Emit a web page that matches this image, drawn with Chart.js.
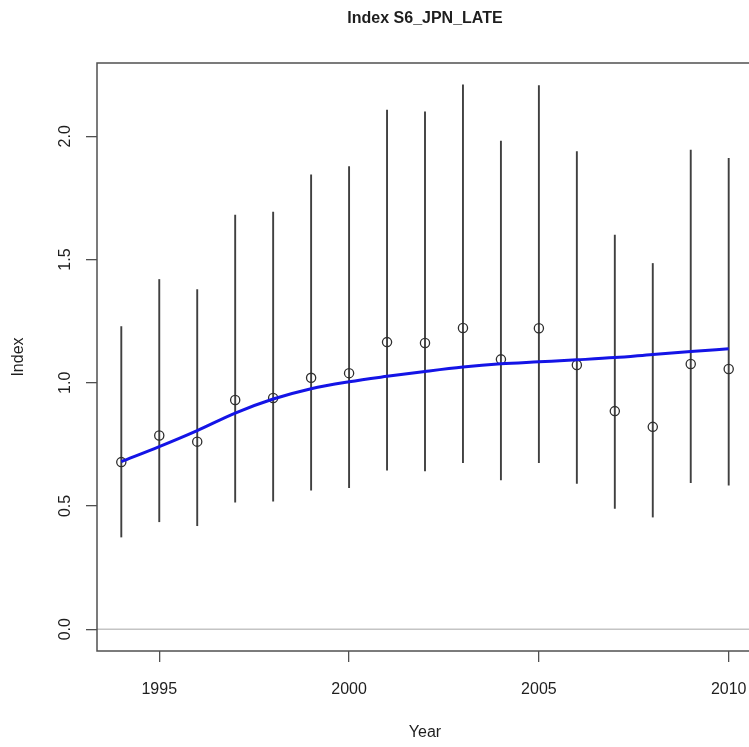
<!DOCTYPE html>
<html>
<head>
<meta charset="utf-8">
<title>Index S6_JPN_LATE</title>
<script src="https://cdn.jsdelivr.net/npm/chart.js@4.4.1/dist/chart.umd.min.js"></script>
<style>
  html, body { margin: 0; padding: 0; background: #ffffff; overflow: hidden; }
  #wrap { position: relative; width: 780px; height: 747px; }
</style>
</head>
<body>
<div id="wrap"><canvas id="chart"></canvas></div>
<script>
// Annual index estimates with 95% intervals and smoothed trend
const years = [1994, 1995, 1996, 1997, 1998, 1999, 2000, 2001, 2002, 2003, 2004, 2005, 2006, 2007, 2008, 2009, 2010];
const indexValues = [0.678, 0.786, 0.761, 0.930, 0.938, 1.020, 1.039, 1.165, 1.161, 1.222, 1.095, 1.221, 1.072, 0.885, 0.821, 1.076, 1.056];
const lowerCI = [0.374, 0.436, 0.420, 0.515, 0.520, 0.564, 0.574, 0.645, 0.642, 0.676, 0.606, 0.676, 0.592, 0.490, 0.455, 0.595, 0.584];
const upperCI = [1.228, 1.419, 1.378, 1.680, 1.692, 1.844, 1.877, 2.106, 2.099, 2.209, 1.981, 2.206, 1.938, 1.599, 1.484, 1.944, 1.911];
const trendValues = [0.680, 0.741, 0.806, 0.877, 0.934, 0.976, 1.004, 1.026, 1.046, 1.064, 1.077, 1.085, 1.093, 1.102, 1.115, 1.127, 1.138];
const xTicks = [1995, 2000, 2005, 2010];
const yTicks = [0.0, 0.5, 1.0, 1.5, 2.0];

const TITLE = 'Index S6_JPN_LATE';
const X_LABEL = 'Year';
const Y_LABEL = 'Index';
const FONT = '"Liberation Sans", Arial, Helvetica, sans-serif';

// axis limits padded by 4% of the data range on each side
const xMinData = Math.min(...years), xMaxData = Math.max(...years);
const xPad = (xMaxData - xMinData) * 0.04;
const yMinData = 0, yMaxData = Math.max(...upperCI);
const yPad = (yMaxData - yMinData) * 0.04;

const AXIS_COLOR = '#505050';
const TEXT_COLOR = '#1e1e1e';

// frame, zero reference line, rotated y tick labels and titles
const decorations = {
  id: 'decorations',
  beforeDatasetsDraw(chart) {
    const { ctx, chartArea: a, scales } = chart;
    const y0 = scales.y.getPixelForValue(0);
    ctx.save();
    ctx.strokeStyle = '#c4c4c4';
    ctx.lineWidth = 1.5;
    ctx.beginPath();
    ctx.moveTo(a.left, y0);
    ctx.lineTo(a.right, y0);
    ctx.stroke();
    ctx.restore();
  },
  afterDraw(chart) {
    const { ctx, chartArea: a, scales } = chart;
    ctx.save();
    ctx.strokeStyle = AXIS_COLOR;
    ctx.lineWidth = 1.5;
    ctx.strokeRect(a.left, a.top, a.right - a.left, a.bottom - a.top);

    ctx.fillStyle = TEXT_COLOR;
    ctx.textAlign = 'center';
    ctx.textBaseline = 'middle';

    // y tick labels, rotated like the axis title
    ctx.font = '16px ' + FONT;
    yTicks.forEach(v => {
      const py = scales.y.getPixelForValue(v);
      ctx.save();
      ctx.translate(66, py);
      ctx.rotate(-Math.PI / 2);
      ctx.fillText(v.toFixed(1), 0, 0);
      ctx.restore();
    });

    // axis titles
    const cx = (a.left + a.right) / 2;
    const cy = (a.top + a.bottom) / 2;
    ctx.font = '16px ' + FONT;
    ctx.fillText(X_LABEL, cx, 733);
    ctx.save();
    ctx.translate(19, cy);
    ctx.rotate(-Math.PI / 2);
    ctx.fillText(Y_LABEL, 0, 0);
    ctx.restore();

    // main title
    ctx.font = 'bold 16px ' + FONT;
    ctx.fillText(TITLE, cx, 19);
    ctx.restore();
  }
};

new Chart(document.getElementById('chart'), {
  type: 'bar',
  data: {
    datasets: [
      {
        type: 'line',
        label: 'Trend',
        data: years.map((yr, i) => ({ x: yr, y: trendValues[i] })),
        borderColor: '#1414e6',
        borderWidth: 3,
        pointRadius: 0,
        cubicInterpolationMode: 'monotone',
        fill: false,
        order: 0
      },
      {
        type: 'line',
        label: 'Index',
        data: years.map((yr, i) => ({ x: yr, y: indexValues[i] })),
        showLine: false,
        pointStyle: 'circle',
        pointRadius: 4.6,
        pointBorderWidth: 1.3,
        pointBorderColor: '#2e2e2e',
        pointBackgroundColor: 'rgba(0,0,0,0)',
        order: 1
      },
      {
        type: 'bar',
        label: 'Interval',
        data: years.map((yr, i) => ({ x: yr, y: [lowerCI[i], upperCI[i]] })),
        backgroundColor: '#404040',
        borderWidth: 0,
        barThickness: 1.25,
        grouped: false,
        order: 2
      }
    ]
  },
  options: {
    responsive: true,
    maintainAspectRatio: false,
    animation: false,
    layout: { padding: { top: 63, left: 0, right: 27, bottom: 0 } },
    plugins: {
      legend: { display: false },
      tooltip: { enabled: false },
      title: { display: false }
    },
    scales: {
      x: {
        type: 'linear',
        offset: false,
        min: xMinData - xPad,
        max: xMaxData + xPad,
        afterBuildTicks(scale) { scale.ticks = xTicks.map(v => ({ value: v })); },
        afterFit(scale) { scale.height = 96; scale.paddingLeft = 0; scale.paddingRight = 0; },
        border: { display: false },
        grid: {
          offset: false,
          drawOnChartArea: false,
          drawTicks: true,
          tickLength: 11,
          color: AXIS_COLOR,
          lineWidth: 1.3
        },
        ticks: {
          autoSkip: false,
          maxRotation: 0,
          padding: 18,
          color: TEXT_COLOR,
          font: { family: FONT, size: 16 },
          callback: v => String(v)
        }
      },
      y: {
        type: 'linear',
        min: yMinData - yPad,
        max: yMaxData + yPad,
        afterBuildTicks(scale) { scale.ticks = yTicks.map(v => ({ value: v })); },
        afterFit(scale) { scale.width = 97; scale.paddingTop = 0; scale.paddingBottom = 0; },
        border: { display: false },
        grid: {
          offset: false,
          drawOnChartArea: false,
          drawTicks: true,
          tickLength: 11,
          color: AXIS_COLOR,
          lineWidth: 1.3
        },
        ticks: { display: false }
      }
    }
  },
  plugins: [decorations]
});
</script>
</body>
</html>
